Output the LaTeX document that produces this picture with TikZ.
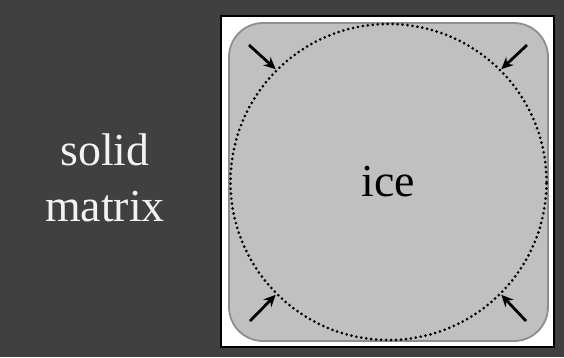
\documentclass[tikz,border=0pt]{standalone}
\usepackage{fontspec}
\setmainfont{Liberation Serif}
\usetikzlibrary{arrows.meta}
\definecolor{bgdark}{HTML}{404040}
\definecolor{icefill}{HTML}{C0C0C0}
\definecolor{iceedge}{HTML}{8E8E8E}
\tikzset{
  x=1bp, y=-1bp,
  bigtext/.style={font=\fontsize{46}{56}\selectfont, align=center, inner sep=0pt},
  dotcircle/.style={circle, draw=black, line width=3pt, line cap=round,
    dash pattern=on 0pt off 5pt, inner sep=0pt, minimum size=316bp},
  inarrow/.style={line width=2.8pt, -{Stealth[length=12pt,width=11pt,inset=4pt]}},
}
\begin{document}
\begin{tikzpicture}
\useasboundingbox (0,0) rectangle (564,357);
\fill[bgdark] (0,0) rectangle (564,357);
\node[bigtext, text=white!95!black] (solid) at (105,178) {solid\\matrix};
\draw[fill=white, draw=black, line width=2.5bp] (221,16) rectangle (554,347);
\draw[fill=icefill, draw=iceedge, line width=1.8bp, rounded corners=34bp] (229,23) rectangle (548,341);
\node[dotcircle, bigtext] (c) at (388.5,182) {ice};
\coordinate (ul) at (249,45);
\coordinate (ur) at (527,45);
\coordinate (ll) at (250,321);
\coordinate (lr) at (526,321);
\draw[inarrow] (ul) -- (c.135);
\draw[inarrow] (ur) -- (c.45);
\draw[inarrow] (ll) -- (c.225);
\draw[inarrow] (lr) -- (c.315);
\end{tikzpicture}
\end{document}
